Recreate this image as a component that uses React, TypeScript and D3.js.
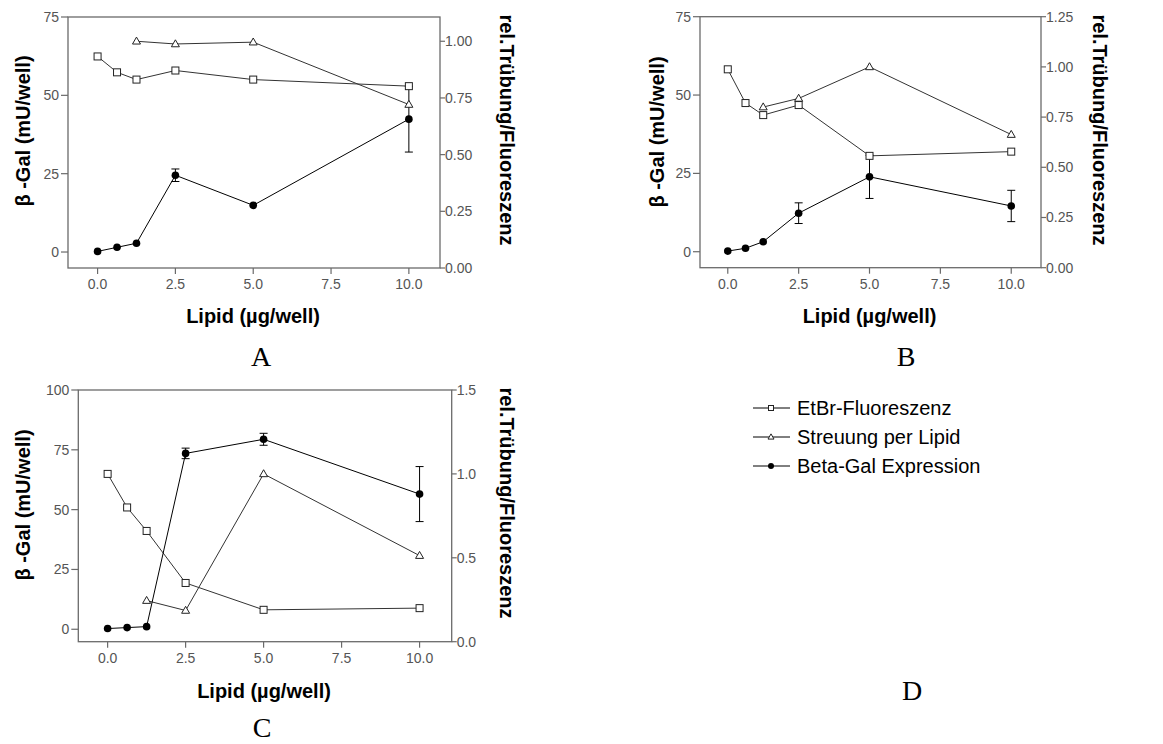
import React from "react";
import * as d3 from "d3";

// ---------- data ----------
const lipid = [0, 0.625, 1.25, 2.5, 5, 10];
const lipidTri = [1.25, 2.5, 5, 10];

const etbrA = [0.933, 0.863, 0.831, 0.871, 0.831, 0.802];
const streuA = [1.0, 0.988, 0.996, 0.721];
const galA = [0.2, 1.5, 2.8, 24.5, 14.9, 42.4];
const galErrA = [0, 0, 0, 2.0, 0, 10.5];

const etbrB = [0.988, 0.82, 0.76, 0.81, 0.557, 0.578];
const streuB = [0.8, 0.843, 1.0, 0.663];
const galB = [0.2, 1.1, 3.2, 12.3, 23.9, 14.6];
const galErrB = [0, 0, 0, 3.3, 6.9, 5.0];

const etbrC = [1.0, 0.8, 0.66, 0.35, 0.19, 0.2];
const streuC = [0.245, 0.186, 1.0, 0.513];
const galC = [0.3, 0.7, 1.1, 73.5, 79.4, 56.5];
const galErrC = [0, 0, 0, 2.2, 2.5, 11.5];

const xTicks = [0, 2.5, 5, 7.5, 10];
const leftTicksAB = [0, 25, 50, 75];
const leftTicksC = [0, 25, 50, 75, 100];
const rightTicksA = [0, 0.25, 0.5, 0.75, 1.0];
const rightTicksB = [0, 0.25, 0.5, 0.75, 1.0, 1.25];
const rightTicksC = [0, 0.5, 1.0, 1.5];

const legendLabels = ["EtBr-Fluoreszenz", "Streuung per Lipid", "Beta-Gal Expression"];

const SANS = "'Liberation Sans', Arial, sans-serif";
const SERIF = "'Liberation Serif', 'Times New Roman', serif";
const AXIS = "#6a6a6a";
const TICKTXT = "#555";
const LINE = "#333";

function Square({ x, y, s = 7 }: { x: number; y: number; s?: number }) {
  return <rect x={x - s / 2} y={y - s / 2} width={s} height={s} fill="#fff" stroke="#222" strokeWidth={1} />;
}
function Tri({ x, y, s = 8 }: { x: number; y: number; s?: number }) {
  const h = s * 0.87;
  return (
    <path
      d={`M${x},${y - h * 0.6}L${x + s / 2},${y + h * 0.4}L${x - s / 2},${y + h * 0.4}Z`}
      fill="#fff"
      stroke="#222"
      strokeWidth={1}
    />
  );
}
function Dot({ x, y, r = 3.8 }: { x: number; y: number; r?: number }) {
  return <circle cx={x} cy={y} r={r} fill="#000" />;
}

type PanelProps = {
  left: number; right: number; top: number; bottom: number;
  xDom: [number, number]; lDom: [number, number]; rDom: [number, number];
  lTicks: number[]; rTicks: number[]; rFmt: string;
  etbr: number[]; streu: number[]; gal: number[]; galErr: number[];
  letter: string; letterX: number; letterY: number;
  xLabelY: number; lLabel: [number, number]; rLabel: [number, number];
};

function Panel(p: PanelProps) {
  const x = d3.scaleLinear().domain(p.xDom).range([p.left, p.right]);
  const yl = d3.scaleLinear().domain(p.lDom).range([p.bottom, p.top]);
  const yr = d3.scaleLinear().domain(p.rDom).range([p.bottom, p.top]);
  const fx = d3.format(".1f");
  const fr = d3.format(p.rFmt);
  const line = d3.line<[number, number]>().x((d) => d[0]).y((d) => d[1]);

  const sq: [number, number][] = lipid.map((v, i) => [x(v), yr(p.etbr[i])]);
  const tr: [number, number][] = lipidTri.map((v, i) => [x(v), yr(p.streu[i])]);
  const gl: [number, number][] = lipid.map((v, i) => [x(v), yl(p.gal[i])]);

  return (
    <g>
      {/* frame */}
      <rect x={p.left} y={p.top} width={p.right - p.left} height={p.bottom - p.top} fill="none" stroke={AXIS} strokeWidth={1.3} />
      {/* x ticks */}
      {xTicks.map((t) => (
        <g key={"x" + t}>
          <line x1={x(t)} x2={x(t)} y1={p.bottom} y2={p.bottom + 6} stroke={AXIS} strokeWidth={1.2} />
          <text x={x(t)} y={p.bottom + 21} textAnchor="middle" fontFamily={SANS} fontSize={14} fill={TICKTXT}>{fx(t)}</text>
        </g>
      ))}
      {/* left ticks */}
      {p.lTicks.map((t) => (
        <g key={"l" + t}>
          <line x1={p.left - 7} x2={p.left} y1={yl(t)} y2={yl(t)} stroke={AXIS} strokeWidth={1.2} />
          <text x={p.left - 9} y={yl(t)} dy="0.35em" textAnchor="end" fontFamily={SANS} fontSize={14} fill={TICKTXT}>{t}</text>
        </g>
      ))}
      {/* right ticks */}
      {p.rTicks.map((t) => (
        <g key={"r" + t}>
          <line x1={p.right} x2={p.right + 5} y1={yr(t)} y2={yr(t)} stroke={AXIS} strokeWidth={1.2} />
          <text x={p.right + 5} y={yr(t)} dy="0.35em" textAnchor="start" fontFamily={SANS} fontSize={14} fill={TICKTXT}>{fr(t)}</text>
        </g>
      ))}
      {/* axis labels */}
      <text x={(p.left + p.right) / 2 - 1} y={p.xLabelY} textAnchor="middle" fontFamily={SANS} fontWeight="bold" fontSize={20} fill="#000">Lipid (µg/well)</text>
      <text transform={`translate(${p.lLabel[0]},${p.lLabel[1]}) rotate(-90)`} textAnchor="middle" dy="0.35em" fontFamily={SANS} fontWeight="bold" fontSize={20} fill="#000">β -Gal (mU/well)</text>
      <text transform={`translate(${p.rLabel[0]},${p.rLabel[1]}) rotate(90)`} textAnchor="middle" dy="0.35em" fontFamily={SANS} fontWeight="bold" fontSize={20} fill="#000">rel.Trübung/Fluoreszenz</text>
      {/* series lines */}
      <path d={line(sq) || ""} fill="none" stroke={LINE} strokeWidth={1} />
      <path d={line(tr) || ""} fill="none" stroke={LINE} strokeWidth={1} />
      <path d={line(gl) || ""} fill="none" stroke="#000" strokeWidth={1} />
      {/* error bars */}
      {lipid.map((v, i) =>
        p.galErr[i] > 0 ? (
          <g key={"e" + i} stroke="#000" strokeWidth={1}>
            <line x1={x(v)} x2={x(v)} y1={yl(p.gal[i] - p.galErr[i])} y2={yl(p.gal[i] + p.galErr[i])} />
            <line x1={x(v) - 4} x2={x(v) + 4} y1={yl(p.gal[i] - p.galErr[i])} y2={yl(p.gal[i] - p.galErr[i])} />
            <line x1={x(v) - 4} x2={x(v) + 4} y1={yl(p.gal[i] + p.galErr[i])} y2={yl(p.gal[i] + p.galErr[i])} />
          </g>
        ) : null
      )}
      {/* markers */}
      {tr.map((d, i) => <Tri key={"t" + i} x={d[0]} y={d[1]} />)}
      {sq.map((d, i) => <Square key={"s" + i} x={d[0]} y={d[1]} />)}
      {gl.map((d, i) => <Dot key={"g" + i} x={d[0]} y={d[1]} />)}
      {/* panel letter */}
      <text x={p.letterX} y={p.letterY} textAnchor="middle" fontFamily={SERIF} fontSize={28} fill="#000">{p.letter}</text>
    </g>
  );
}

export default function App() {
  return (
    <svg width={1163} height={744} style={{ position: "absolute", left: 0, top: 0, background: "#fff" }}>
      <rect width={1163} height={744} fill="#fff" />
      <Panel
        left={68} right={440} top={17} bottom={268}
        xDom={[-0.95, 11]} lDom={[-5.1, 75]} rDom={[0, 1.107]}
        lTicks={leftTicksAB} rTicks={rightTicksA} rFmt=".2f"
        etbr={etbrA} streu={streuA} gal={galA} galErr={galErrA}
        letter="A" letterX={261} letterY={366}
        xLabelY={323} lLabel={[23, 131]} rLabel={[507, 130]}
      />
      <Panel
        left={700} right={1041} top={16.7} bottom={267.7}
        xDom={[-0.98, 11.05]} lDom={[-5.1, 75]} rDom={[0, 1.25]}
        lTicks={leftTicksAB} rTicks={rightTicksB} rFmt=".2f"
        etbr={etbrB} streu={streuB} gal={galB} galErr={galErrB}
        letter="B" letterX={906} letterY={366}
        xLabelY={323} lLabel={[657, 132]} rLabel={[1100, 130]}
      />
      <Panel
        left={78.3} right={451.7} top={390} bottom={641.7}
        xDom={[-0.94, 11.03]} lDom={[-5.2, 100]} rDom={[0, 1.5]}
        lTicks={leftTicksC} rTicks={rightTicksC} rFmt=".1f"
        etbr={etbrC} streu={streuC} gal={galC} galErr={galErrC}
        letter="C" letterX={262} letterY={737}
        xLabelY={698} lLabel={[23, 505]} rLabel={[507, 503]}
      />
      {/* legend */}
      {legendLabels.map((lab, i) => {
        const y = 408 + i * 29;
        return (
          <g key={lab}>
            <line x1={753} x2={790} y1={y} y2={y} stroke="#000" strokeWidth={1} />
            {i === 0 && <Square x={771} y={y} s={5} />}
            {i === 1 && <Tri x={771} y={y} s={6} />}
            {i === 2 && <Dot x={771} y={y} r={3} />}
            <text x={797} y={y} dy="0.35em" fontFamily={SANS} fontSize={20} fill="#000">{lab}</text>
          </g>
        );
      })}
      <text x={912} y={700} textAnchor="middle" fontFamily={SERIF} fontSize={28} fill="#000">D</text>
    </svg>
  );
}
